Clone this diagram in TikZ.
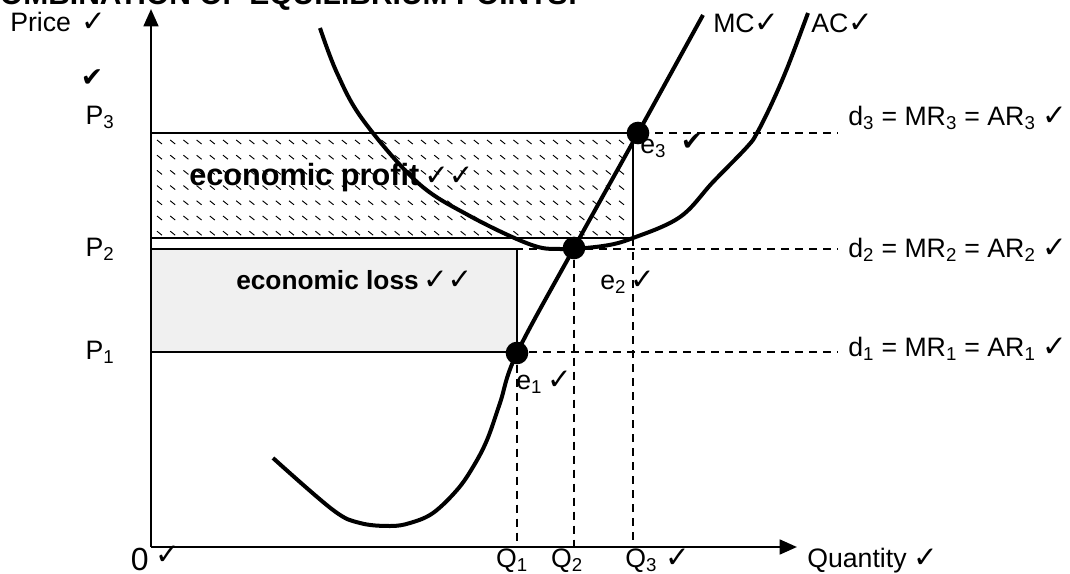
\documentclass[tikz,border=0pt]{standalone}
\usepackage{fontspec}
\setmainfont{Liberation Sans}
\newfontfamily\tickfont{DejaVu Sans}
\usetikzlibrary{arrows.meta}

\newcommand{\tk}{{\tickfont\fontsize{22}{22}\selectfont ✓}}
\newcommand{\btk}{{\tickfont\fontsize{20}{20}\selectfont ✔}}

\tikzset{
  curve/.style={line width=3pt},
  axis/.style={line width=2pt, -{Triangle[length=13pt, width=11pt]}},
  guide/.style={line width=1.4pt, dash pattern=on 6pt off 4.5pt},
  box/.style={line width=1.4pt},
  hatch/.style={line width=0.7pt},
  dot/.style={circle, fill=black, inner sep=0pt, minimum size=17pt},
  lbl/.style={font=\fontsize{20}{22}\selectfont, inner sep=0pt},
}

\begin{document}
\begin{tikzpicture}[x=0.75pt, y=-0.75pt]
\useasboundingbox (0,0) rectangle (1070,574);

\node[anchor=base west, inner sep=0pt, font=\bfseries\fontsize{22.5}{24}\selectfont] (title) at (-22,5) {COMBINATION OF EQUILIBRIUM POINTS:};

\coordinate (O) at (151,547);
\coordinate (ytop) at (151,9);
\coordinate (xend) at (797,547);
\coordinate (p1) at (151,352);
\coordinate (p2) at (151,249);
\coordinate (p3) at (151,133);
\coordinate (d1end) at (838,352);
\coordinate (d2end) at (838,249);
\coordinate (d3end) at (838,133);
\coordinate (c3) at (633,238);

% areas
\fill[black!6] (p2) rectangle (517,352);
\foreach \i in {0,...,35}
  \foreach \j in {0,...,6}
    \draw[hatch] ({157+13.2*\i},{140+15.2*\j}) -- ++(5,4);
\draw[box] (p3) rectangle (c3);
\draw[box] (p2) rectangle (517,352);

% price lines
\draw[guide] (p3) -- (d3end);
\draw[guide] (p2) -- (d2end);
\draw[guide] (p1) -- (d1end);

\node[dot] (e1) at (517,353) {};
\node[dot] (e2) at (574,248) {};
\node[dot] (e3) at (638,133) {};

\draw[guide] (e1) -- (e1 |- O);
\draw[guide] (e2) -- (e2 |- O);
\draw[guide] (c3) -- (c3 |- O);

% cost curves
\draw[curve] plot[smooth, tension=0.6] coordinates {(273,458) (333,510) (360,523) (390,526) (410,523) (433,513) (457,490) (473,467) (487,440) (500,403) (517,353) (574,248) (638,133) (703,15)};
\draw[curve] plot[smooth, tension=0.6] coordinates {(320,28) (337,73) (363,120) (417,182) (468,215) (529,244) (560,249) (603,246) (633,238) (680,217) (713,182) (747,147) (757,133) (772,103) (788,66) (808,13)};

\draw[axis] (O) -- (ytop);
\draw[axis] (O) -- (xend);

% labels
\node[lbl, anchor=west] (price) at (10,22) {Price\hspace{8pt}\tk};
\node[inner sep=0pt] (bigtick) at (92,78) {\btk};
\node[lbl] (P3) at (100,117) {P\textsubscript{3}};
\node[lbl] (P2) at (100,249) {P\textsubscript{2}};
\node[lbl] (P1) at (100,352) {P\textsubscript{1}};
\node[lbl, anchor=east, font=\fontsize{24}{26}\selectfont] (zero) at (149,559) {0};
\node[inner sep=0pt] (zerotick) at (168,555) {\tk};

\node[lbl, anchor=west] (MC) at (713,23) {MC\tk};
\node[lbl, anchor=west] (AC) at (811,23) {AC\tk};

\node[lbl, anchor=west] (d3) at (848,118) {d\textsubscript{3} = MR\textsubscript{3} = AR\textsubscript{3} \tk};
\node[lbl, anchor=west] (d2) at (848,250) {d\textsubscript{2} = MR\textsubscript{2} = AR\textsubscript{2} \tk};
\node[lbl, anchor=west] (d1) at (848,349) {d\textsubscript{1} = MR\textsubscript{1} = AR\textsubscript{1} \tk};

\node[lbl, anchor=west] (e3lbl) at (640,148) {e\textsubscript{3}};
\node[inner sep=0pt] (e3tick) at (692,142) {\btk};
\node[lbl, anchor=west] (e2lbl) at (600,282) {e\textsubscript{2}\,\tk};
\node[lbl, anchor=west] (e1lbl) at (516,382) {e\textsubscript{1}\hspace{4pt}\tk};

\node[lbl] (Q1) at (512,561) {Q\textsubscript{1}};
\node[lbl] (Q2) at (567,561) {Q\textsubscript{2}};
\node[lbl, anchor=west] (Q3) at (625,561) {Q\textsubscript{3}\hspace{6pt}\tk};
\node[lbl, anchor=west] (qty) at (807,561) {Quantity \tk};

\node[anchor=west, inner sep=0pt, font=\bfseries\fontsize{23}{25}\selectfont] (profit) at (189,178) {economic profit\,\tk\tk};
\node[anchor=west, inner sep=0pt, font=\bfseries\fontsize{19.7}{22}\selectfont] (loss) at (236,280) {economic loss\,\tk\tk};

\end{tikzpicture}
\end{document}
